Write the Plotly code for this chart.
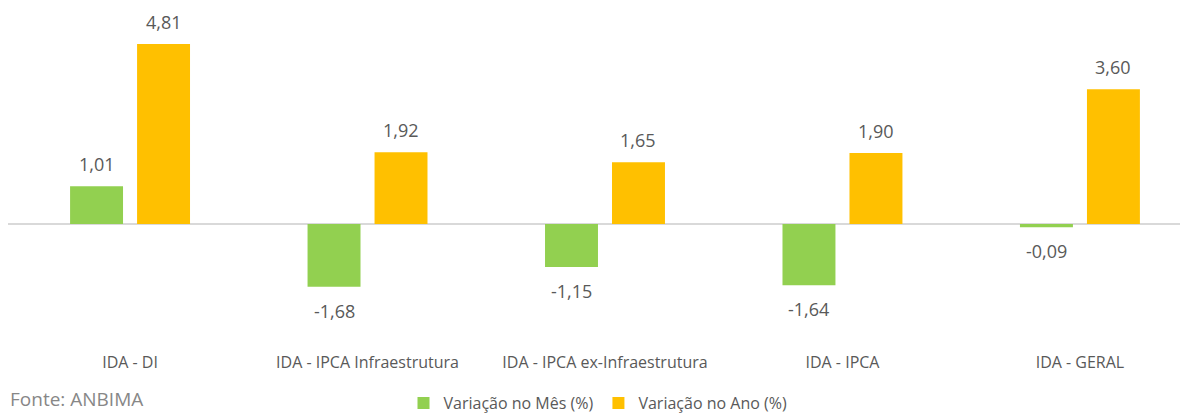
import plotly.graph_objects as go

categories = ["IDA - DI", "IDA - IPCA Infraestrutura", "IDA - IPCA ex-Infraestrutura", "IDA - IPCA", "IDA - GERAL"]
var_mes = [1.01, -1.68, -1.15, -1.64, -0.09]
var_ano = [4.81, 1.92, 1.65, 1.90, 3.60]
series_names = ["Variação no Mês (%)", "Variação no Ano (%)"]
source_text = "Fonte: ANBIMA"

GREEN = "#92D050"
ORANGE = "#FFC000"
TXT = "#595959"
FONT = "Open Sans"

bw = 0.223
offs = [-0.2526, 0.0295]

fig = go.Figure()
for name, vals, col, off in zip(series_names, [var_mes, var_ano], [GREEN, ORANGE], offs):
    fig.add_trace(go.Bar(
        x=categories, y=vals, name=name, marker=dict(color=col, line=dict(width=0)),
        width=bw, offset=off,
    ))

annotations = []
for vals, off in zip([var_mes, var_ano], offs):
    for c, v in zip(categories, vals):
        annotations.append(dict(
            x=c, y=v, xref="x", yref="y", text=f"{v:.2f}".replace(".", ","),
            showarrow=False, xshift=(off + bw / 2) * 237.5,
            yshift=22 if v >= 0 else -24,
            font=dict(family=FONT, size=18, color=TXT),
        ))
annotations.append(dict(
    x=0.001, y=-0.14, xref="paper", yref="paper", yanchor="middle", xanchor="left",
    text=source_text, showarrow=False, borderpad=0,
    font=dict(family=FONT, size=19, color="#878787"),
))

fig.update_layout(
    width=1180, height=406,
    margin=dict(l=0, r=0, t=0, b=63, autoexpand=False),
    paper_bgcolor="white", plot_bgcolor="white",
    barmode="group",
    font=dict(family=FONT, color=TXT),
    xaxis=dict(range=[-0.514, 4.455], showgrid=False, showline=False, ticks="",
               tickfont=dict(family=FONT, size=16, color=TXT)),
    yaxis=dict(range=[-3.396, 5.775], showgrid=False, showticklabels=False,
               zeroline=True, zerolinecolor="#D9D9D9", zerolinewidth=1.5),
    legend=dict(orientation="h", x=0.5, xanchor="center", y=0.027, yanchor="middle",
                yref="container",
                font=dict(family=FONT, size=16, color=TXT), itemwidth=30),
    annotations=annotations,
    showlegend=True,
)
fig.write_html("out.html")
